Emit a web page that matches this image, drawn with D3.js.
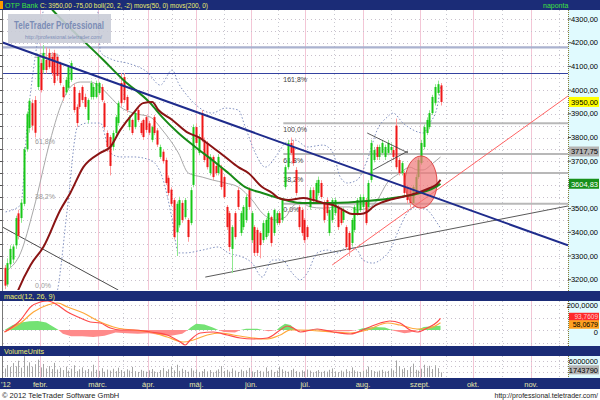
<!DOCTYPE html>
<html><head><meta charset="utf-8">
<script src="https://cdn.jsdelivr.net/npm/d3@7"></script>
<style>body{margin:0;background:#fff}svg{display:block;font-family:"Liberation Sans",Arial,sans-serif}</style>
</head><body><svg id="c" width="600" height="400"></svg>
<script>
// ---------- DATA ----------
const opens=[3250,3180,3265,3285,3345,3480,3460,3520,3750,3840,3945,3958,4013,4114,4085,4127,4157,4140,4157,4140,4114,4013,3990,4010,4043,4013,3929,3988,4013,3971,3874,3971,3971,3971,3988,4013,3945,3819,3802,3760,3819,3861,4030,4055,3971,3844,3874,3844,3916,3861,3874,3886,3860,3790,3886,3830,3718,3740,3705,3630,3580,3536,3400,3430,3524,3464,3452,3439,3600,3844,3735,3903,3789,3777,3650,3718,3680,3650,3675,3633,3507,3481,3330,3481,3578,3397,3422,3452,3578,3367,3422,3410,3397,3367,3380,3397,3464,3397,3439,3481,3452,3591,3675,3777,3760,3663,3507,3494,3452,3422,3507,3578,3536,3566,3608,3524,3536,3397,3452,3481,3507,3494,3452,3422,3397,3355,3410,3481,3494,3507,3536,3507,3621,3705,3760,3718,3735,3718,3735,3747,3747,3850,3705,3650,3650,3591,3578,3524,3578,3633,3692,3760,3819,3844,3903,3945,3988,4020];
const highs=[3262,3290,3345,3350,3470,3495,3540,3760,3910,3965,3960,3975,4150,4130,4190,4180,4175,4160,4170,4150,4120,4020,4055,4105,4125,4025,3940,4000,4020,3985,3965,4040,4025,4040,4035,4025,3955,3830,3810,3830,3895,3955,4072,4072,3980,3895,3880,3910,3925,3870,3880,3895,3870,3850,3895,3840,3770,3750,3715,3640,3590,3545,3530,3550,3535,3545,3460,3590,3855,3860,3815,3916,3800,3785,3730,3725,3690,3730,3685,3640,3515,3490,3430,3490,3590,3490,3515,3560,3590,3490,3430,3420,3405,3450,3460,3490,3470,3500,3490,3490,3545,3685,3790,3800,3790,3675,3515,3505,3460,3430,3590,3590,3620,3635,3620,3535,3545,3505,3545,3545,3515,3505,3505,3430,3405,3460,3515,3545,3560,3560,3545,3620,3790,3760,3770,3770,3790,3770,3790,3775,3760,3880,3715,3700,3660,3600,3590,3600,3645,3715,3790,3855,3885,3915,3980,4025,4040,4030];
const lows=[3160,3170,3250,3270,3330,3370,3440,3510,3740,3820,3830,3800,4000,3990,4070,4070,4090,4060,4020,4040,4020,3955,3980,4000,4035,3905,3845,3920,3945,3920,3860,3960,3960,3965,3980,3950,3830,3740,3640,3745,3810,3850,3930,3945,3905,3830,3810,3835,3865,3810,3790,3820,3810,3780,3810,3760,3710,3690,3600,3555,3510,3370,3300,3420,3440,3455,3360,3430,3590,3765,3725,3780,3695,3665,3640,3620,3640,3640,3580,3540,3410,3320,3228,3370,3495,3385,3410,3440,3495,3355,3300,3300,3290,3355,3370,3385,3340,3385,3430,3430,3440,3580,3665,3725,3680,3555,3410,3385,3355,3370,3495,3525,3525,3555,3540,3440,3470,3385,3440,3470,3410,3430,3440,3325,3300,3340,3400,3470,3485,3495,3430,3495,3610,3695,3705,3705,3725,3705,3725,3735,3705,3665,3640,3640,3555,3520,3505,3515,3570,3625,3685,3750,3810,3835,3895,3935,3980,3935];
const closes=[3175,3270,3330,3340,3460,3385,3525,3750,3900,3955,3850,3820,4140,4000,4157,4085,4097,4072,4030,4060,4030,3970,4043,4097,4114,3916,3861,3929,3958,3929,3958,4030,4013,4030,4030,3958,3844,3760,3680,3819,3886,3945,3945,3958,3916,3886,3819,3903,3874,3819,3802,3832,3820,3844,3819,3770,3760,3700,3608,3566,3520,3380,3520,3536,3452,3536,3380,3578,3844,3777,3802,3789,3705,3675,3718,3633,3650,3718,3591,3549,3422,3338,3422,3380,3507,3481,3507,3549,3507,3481,3313,3313,3346,3439,3452,3481,3355,3494,3481,3439,3536,3675,3777,3735,3692,3566,3422,3397,3367,3380,3578,3536,3608,3621,3549,3452,3481,3494,3536,3536,3422,3439,3494,3338,3325,3452,3507,3536,3549,3549,3439,3608,3777,3747,3718,3760,3777,3760,3777,3760,3718,3675,3650,3692,3566,3536,3524,3591,3633,3705,3777,3844,3874,3903,3971,4013,4025,3950];
// volume in millions of units
const volumes=[3.2,4.5,3.8,5.2,4.0,6.1,3.5,7.8,4.2,5.5,3.9,4.8,6.5,3.6,4.9,3.2,4.1,3.0,5.3,2.8,3.5,
2.6,3.9,2.4,3.1,4.4,2.2,2.9,3.6,2.5,3.0,2.1,4.6,2.7,2.3,3.3,2.0,2.8,2.4,3.1,2.2,
3.5,2.6,2.1,2.9,2.4,3.8,2.2,1.9,2.7,2.3,2.0,2.5,3.0,2.1,1.8,2.6,3.4,2.2,2.9,3.9,
2.5,4.6,2.3,3.1,2.6,2.0,3.3,2.4,2.8,1.9,2.2,3.0,2.1,2.6,1.8,2.4,2.9,4.1,2.3,2.7,
2.0,3.2,2.4,1.9,2.8,2.2,2.5,3.4,2.1,1.8,2.6,2.3,2.0,3.6,2.2,2.7,1.9,2.4,3.8,2.9,
2.3,2.0,2.6,3.1,2.2,1.9,2.5,2.1,2.8,2.4,1.8,2.2,2.6,1.9,2.3,2.0,2.7,3.2,2.1,1.8,
2.4,2.0,2.9,2.2,3.6,2.5,2.1,1.9,2.3,2.8,3.9,2.6,2.2,2.0,2.4,2.7,2.1,2.3,3.0,2.5,
6.2,4.1,2.9,3.4,2.6,3.8,5.0,2.7,2.4,3.1,4.6,3.5,4.2,3.0,4.4,3.3,1.74379];
// indicator lines: [candle index, value]
const ma50=[[3.5,3110],[4.0,3127],[9.4,3262],[14.0,3338],[20.1,3494],[23.7,3566],[28.4,3675],[34.5,3735],[38.1,3760],[41.7,3832],[46.4,3903],[49.9,3945],[53.2,3950],[55.4,3916],[60.4,3874],[66.2,3819],[69.8,3802],[74.8,3760],[79.5,3718],[84.2,3675],[87.8,3650],[92.8,3591],[96.4,3566],[98.6,3545],[102.2,3536],[107.6,3545],[111.2,3536],[114.7,3524],[118.3,3515],[121.9,3494],[125.2,3477],[128.1,3477],[130.6,3486],[132.7,3507],[136.3,3528],[141.4,3545],[146.0,3557],[149.6,3570],[153.2,3587],[155.8,3604],[157,3621]];
const ma200=[[14.7,4372],[17.3,4338],[35.6,4127],[42.8,4043],[52.5,3945],[56.8,3886],[62.6,3819],[68.7,3760],[74.8,3705],[80.6,3650],[86.7,3591],[92.8,3566],[98.6,3545],[106.5,3524],[118.3,3524],[130.6,3532],[142.4,3549],[149.6,3566],[155.8,3595],[157,3604.83]];
const bollMid=[[1.1,3241],[5.8,3313],[10.4,3494],[16.5,3789],[20.1,3929],[23.7,4013],[27.3,4034],[30.9,4034],[34.5,4013],[38.1,3971],[41.7,3929],[46.4,3903],[52.5,3886],[56.8,3832],[62.6,3735],[66.2,3650],[71.2,3633],[74.8,3621],[79.5,3608],[84.2,3591],[89.2,3536],[92.8,3481],[97.5,3452],[101.1,3464],[103.6,3507],[106.5,3528],[110.1,3507],[114.7,3502],[119.8,3507],[124.5,3507],[127.0,3494],[131.7,3507],[134.2,3536],[137.8,3608],[142.4,3650],[146.0,3675],[148.6,3663],[150.7,3663],[154.3,3692],[157,3717.75]];
const bollUp=[[0.4,3486],[5.8,3515],[8.3,3874],[10.4,4085],[12.9,4275],[15.1,4380],[23.7,4511],[30.9,4427],[33.8,4317],[34.5,4161],[39.2,4127],[44.2,4114],[51.4,4076],[56.1,4021],[60.4,4085],[62.6,4030],[66.2,3971],[69.8,3929],[74.8,3903],[79.5,3924],[84.2,3916],[86.7,3844],[90.3,3735],[93.9,3675],[98.6,3735],[101.1,3777],[104.7,3789],[109.0,3760],[114.7,3768],[118.3,3735],[120.9,3633],[123.4,3608],[127.0,3621],[130.6,3705],[134.2,3832],[137.8,3886],[139.9,3903],[143.5,3861],[147.1,3832],[150.7,3819],[153.2,3861],[155.8,3929],[157,4013]];
const bollLow=[[18.3,3114],[19.1,3156],[22.7,3507],[26.3,3844],[29.9,3861],[34.5,3861],[38.1,3735],[41.7,3718],[46.4,3718],[52.5,3705],[56.8,3633],[60.4,3452],[62.6,3313],[65.1,3313],[71.2,3325],[77.0,3338],[80.6,3313],[85.6,3296],[89.2,3270],[92.8,3211],[96.4,3283],[100.0,3283],[103.6,3228],[106.5,3199],[109.0,3228],[112.6,3313],[116.2,3325],[119.8,3313],[123.4,3338],[127.0,3325],[129.1,3283],[132.7,3270],[135.3,3283],[138.8,3325],[142.4,3422],[145.0,3481],[148.6,3507],[152.2,3494],[155.8,3439],[157,3418]];
const macdLine=[[0,-16],[5.8,80],[9.4,184],[12.9,224],[15.5,232],[19.1,200],[22.7,144],[27.3,96],[30.9,64],[34.5,56],[38.1,16],[41.7,0],[46.4,0],[52.5,-16],[58.6,-40],[63.3,-96],[65.1,-120],[66.9,-80],[70.5,-24],[75.2,-16],[80.2,-40],[84.9,-64],[89.6,-72],[94.6,-64],[99.3,0],[101.8,32],[104.0,16],[106.5,-16],[112.6,8],[118.3,-16],[124.5,-32],[130.6,16],[135.3,56],[138.8,72],[142.4,56],[146.0,0],[148.6,-16],[152.2,16],[155.8,64],[157,93.7609]];
const signalLine=[[0,-16],[5.8,56],[10.4,144],[15.5,200],[19.1,216],[22.7,184],[28.4,136],[34.5,64],[40.6,16],[46.4,0],[52.5,-16],[58.6,-56],[64.4,-96],[68.0,-80],[73.0,-40],[77.7,-24],[82.4,-40],[89.6,-64],[94.6,-72],[99.3,-40],[102.9,0],[106.5,0],[118.3,-16],[124.5,-24],[130.6,0],[137.8,56],[142.4,40],[148.6,8],[153.2,16],[157,58.0679]];
const macdHist=[[0,0],[3,40],[6,60],[9,70],[12,72],[15,60],[18,20],[19.5,0],[21,-30],[24,-50],[28,-50],[32,-55],[36,-45],[40,-20],[44,-25],[48,-30],[52,-25],[56,-40],[60,-45],[64,-30],[66,0],[67,20],[69,50],[72,45],[75,20],[77,0],[79,-15],[83,-20],[85,0],[87,10],[91,10],[93,0],[95,-10],[98,0],[99,20],[101,50],[103,40],[105,0],[108,-5],[112,5],[116,-10],[120,-10],[124,-10],[127,0],[129,15],[133,25],[137,20],[139,5],[141,-10],[144,-25],[146,-20],[148,-5],[149,5],[151,25],[154,30],[157,35]];
// drawn lines [index, price]
const resistanceLine=[[-1.2,4203],[202.9,3345]];
const oldDownLine=[[-1.2,3425],[41,3156]];
const supportLine=[[72.3,3211],[202.9,3511]];
const upTrendLine=[[118,3262],[202.9,3975]];
const flagUpper=[[130.6,3819],[145.3,3735]];
const flagLower=[[132.7,3663],[145.3,3743]];
const highlight={i:150,p:3612,di:5.75,dp:110};
const fullLevels=[4180,4070];
const fibPrices=[4070,3860,3730,3650,3520];
const fibLabels=["161,8%","100,0%","61,8%","38,2%","0,0%"];
const fibStart=100.4;
const leftFibPrices=[4170,3806,3574,3200];
const leftFibLabels=["100,0%","61,8%","38,2%","0,0%"];
const leftFibAt=11;
const priceTicks=[3200,3300,3400,3500,3600,3700,3800,3900,4000,4100,4200,4300];
const monthLabels=["'12","febr.","márc.","ápr.","máj.","jún.","júl.","aug.","szept.","okt.","nov."];
const monthIdx=[0,12.9,33.5,51.8,69.1,88.8,108.3,129.1,149.6,168.7,189.6];
const macdTicks=[0,200];
const volTicks=[6];

// ---------- DRAW ----------
const svg=d3.select("#c");
const N=closes.length;
const x=d3.scaleLinear().domain([0,N-1]).range([4.5,440.5]);
const y=d3.scaleLinear().domain([3200,4300]).range([279.7,19]);
const ym=d3.scaleLinear().domain([0,200]).range([330,305]);
const yv=d3.scaleLinear().domain([0,6]).range([377,361]);
const NAVY="#1b2c77", AX="#e0fafe";
const f2=v=>v.toFixed(2).replace('.',',');
const f4=v=>v.toFixed(4).replace('.',',');

svg.append("rect").attr("width",600).attr("height",400).attr("fill","#fff");
const defs=svg.append("defs");
function clip(id,y0,h){defs.append("clipPath").attr("id",id).append("rect").attr("x",3).attr("y",y0).attr("width",565).attr("height",h);}
clip("cm",10,280); clip("cmacd",301,45); clip("cvol",356,22);

[[0,10],[291,10],[346,10],[378,11]].forEach(([y0,h])=>svg.append("rect").attr("x",0).attr("y",y0).attr("width",600).attr("height",h).attr("fill",NAVY));
[[10,281],[301,45],[356,22]].forEach(([y0,h])=>{
  svg.append("rect").attr("x",568).attr("y",y0).attr("width",32).attr("height",h).attr("fill",AX);
  svg.append("line").attr("x1",568.5).attr("x2",568.5).attr("y1",y0).attr("y2",y0+h).attr("stroke","#8a7a30").attr("stroke-dasharray","1,1");
  svg.append("line").attr("x1",2.5).attr("x2",2.5).attr("y1",y0).attr("y2",y0+h).attr("stroke","#777");
});

const panels=[[10,290],[301,346],[356,378]];
panels.forEach(([t,b])=>{
  monthIdx.slice(1).forEach((m,k)=>{
    const xx=Math.round(x(m))+0.5;
    if(xx<568) svg.append("line").attr("x1",xx).attr("x2",xx).attr("y1",t).attr("y2",b).attr("stroke","#f3c6d6");
    const nx=k+2<monthIdx.length?monthIdx[k+2]:m+20;
    const mx=Math.round(x((m+nx)/2))+0.5;
    if(mx<568) svg.append("line").attr("x1",mx).attr("x2",mx).attr("y1",t).attr("y2",b).attr("stroke","#c8c8d0").attr("stroke-dasharray","1,3");
  });
});
const gm=svg.append("g").attr("clip-path","url(#cm)");
d3.range(3150,4351,50).forEach(p=>{
  const yy=Math.round(y(p))+0.5;
  gm.append("line").attr("x1",3).attr("x2",568).attr("y1",yy).attr("y2",yy).attr("stroke","#c8c0cc").attr("stroke-dasharray","1,3");
  if(yy>10&&yy<290) svg.append("line").attr("x1",0).attr("x2",2.5).attr("y1",yy).attr("y2",yy).attr("stroke","#555");
});
gm.append("line").attr("x1",3).attr("x2",568).attr("y1",y(fullLevels[0])).attr("y2",y(fullLevels[0])).attr("stroke","#aab2cf").attr("stroke-width",2.2);
gm.append("line").attr("x1",3).attr("x2",568).attr("y1",y(fullLevels[1])).attr("y2",y(fullLevels[1])).attr("stroke","#3442a0").attr("stroke-width",1.2);
fibPrices.forEach((p,k)=>{
  if(k>0) gm.append("line").attr("x1",x(fibStart)).attr("x2",568).attr("y1",y(p)).attr("y2",y(p)).attr("stroke","#b8b8b8").attr("stroke-width",2);
  gm.append("text").attr("x",x(fibStart)).attr("y",y(p)+8.5).attr("font-size",7).attr("fill","#444").text(fibLabels[k]);
});
leftFibPrices.forEach((p,k)=>{
  gm.append("text").attr("x",x(leftFibAt)).attr("y",y(p)+8).attr("font-size",7).attr("fill","#9a9a9a").text(leftFibLabels[k]);
});

const line=d3.line().x(d=>x(d[0])).y(d=>y(d[1]));
const sline=d3.line().x(d=>x(d[0])).y(d=>y(d[1])).curve(d3.curveMonotoneX);

gm.append("path").attr("d",line(oldDownLine)).attr("fill","none").attr("stroke","#4a4a4a").attr("stroke-width",1);
gm.append("path").attr("d",line(supportLine)).attr("fill","none").attr("stroke","#5a5a5a").attr("stroke-width",1);
gm.append("path").attr("d",line(upTrendLine)).attr("fill","none").attr("stroke","#ff6464").attr("stroke-width",1);

gm.append("path").attr("d",sline(bollMid)).attr("fill","none").attr("stroke","#a8a8a8").attr("stroke-width",1);
[bollUp,bollLow].forEach(b=>gm.append("path").attr("d",sline(b)).attr("fill","none").attr("stroke","#8090c0").attr("stroke-width",1).attr("stroke-dasharray","1.5,2"));

const cg=gm.append("g");
closes.forEach((c,i)=>{
  const up=c>=opens[i];
  const xx=Math.round(x(i));
  cg.append("line").attr("x1",xx+0.5).attr("x2",xx+0.5).attr("y1",y(highs[i])).attr("y2",y(lows[i])).attr("stroke",up?"#8ee88e":"#ff9c9c").attr("stroke-width",1);
  const t=y(Math.max(c,opens[i])), b=y(Math.min(c,opens[i]));
  cg.append("rect").attr("x",xx-0.5).attr("y",t).attr("width",2).attr("height",Math.max(1,b-t)).attr("fill",up?"#18c818":"#f01818");
});

gm.append("ellipse").attr("cx",x(highlight.i)).attr("cy",y(highlight.p))
  .attr("rx",x(highlight.di)-x(0)).attr("ry",y(highlight.p-highlight.dp)-y(highlight.p))
  .attr("fill","#f07878").attr("fill-opacity",0.7).attr("stroke","#e04848").attr("stroke-width",1);

gm.append("path").attr("d",sline(ma200)).attr("fill","none").attr("stroke","#178a17").attr("stroke-width",2);
gm.append("path").attr("d",sline(ma50)).attr("fill","none").attr("stroke","#8a1414").attr("stroke-width",2);
[flagUpper,flagLower].forEach(l=>gm.append("path").attr("d",line(l)).attr("fill","none").attr("stroke","#333").attr("stroke-width",0.8));
gm.append("path").attr("d",line(resistanceLine)).attr("fill","none").attr("stroke","#1f2c8c").attr("stroke-width",2);

svg.append("rect").attr("x",8).attr("y",14).attr("width",103).attr("height",29).attr("fill","#c9ccd7").attr("opacity",0.9);
svg.append("text").attr("x",14).attr("y",29).attr("font-size",11).attr("font-weight","bold").attr("fill","#7c8db6").attr("textLength",90).attr("lengthAdjust","spacingAndGlyphs").text("TeleTrader Professional");
svg.append("text").attr("x",25).attr("y",38.5).attr("font-size",5.5).attr("fill","#7c8db6").attr("textLength",77).attr("lengthAdjust","spacingAndGlyphs").text("http://professional.teletrader.com/");

priceTicks.forEach(p=>{
  svg.append("text").attr("x",598).attr("y",y(p)+2.5).attr("text-anchor","end").attr("font-size",7.5).attr("fill","#000").text(f2(p));
  svg.append("line").attr("x1",568).attr("x2",571).attr("y1",y(p)).attr("y2",y(p)).attr("stroke","#555");
});
function tag(yy,txt,bg,fg){
  svg.append("rect").attr("x",569).attr("y",yy-5).attr("width",30).attr("height",10).attr("fill",bg);
  svg.append("text").attr("x",598).attr("y",yy+3).attr("text-anchor","end").attr("font-size",7.5).attr("fill",fg).text(txt);
}
// grey tag nudged up so the 3700,00 tick stays readable below it
tag(y(bollMid[bollMid.length-1][1])-5.5,f2(bollMid[bollMid.length-1][1]),"#b4b4b4","#000");
tag(y(ma200[ma200.length-1][1]),f2(ma200[ma200.length-1][1]),"#17901a","#fff");
tag(y(closes[N-1]),f2(closes[N-1]),"#ffff00","#000");

// ---------- MACD ----------
const gmacd=svg.append("g").attr("clip-path","url(#cmacd)");
[-100,0,100,200].forEach(v=>gmacd.append("line").attr("x1",3).attr("x2",568).attr("y1",Math.round(ym(v))+0.5).attr("y2",Math.round(ym(v))+0.5).attr("stroke","#c8c0cc").attr("stroke-dasharray","1,3"));
const areaPos=d3.area().x(d=>x(d[0])).y0(ym(0)).y1(d=>ym(Math.max(0,d[1])));
const areaNeg=d3.area().x(d=>x(d[0])).y0(ym(0)).y1(d=>ym(Math.min(0,d[1])));
gmacd.append("path").attr("d",areaPos(macdHist)).attr("fill","#74e274");
gmacd.append("path").attr("d",areaNeg(macdHist)).attr("fill","#ff8a8a");
const mline=d3.line().x(d=>x(d[0])).y(d=>ym(d[1])).curve(d3.curveMonotoneX);
gmacd.append("path").attr("d",mline(signalLine)).attr("fill","none").attr("stroke","#ffa838").attr("stroke-width",1.2);
gmacd.append("path").attr("d",mline(macdLine)).attr("fill","none").attr("stroke","#ff4a4a").attr("stroke-width",1.2);
macdTicks.forEach(v=>svg.append("text").attr("x",598).attr("y",ym(v)+(v===0?4.5:2.5)).attr("text-anchor","end").attr("font-size",7.5).attr("fill","#000").text(v===0?"0":f4(v)));
(function(){
  const mv=macdLine[macdLine.length-1][1], sv=signalLine[signalLine.length-1][1];
  svg.append("rect").attr("x",569).attr("y",ym(mv)-5.5).attr("width",30).attr("height",8).attr("fill","#ff2a2a");
  svg.append("text").attr("x",598).attr("y",ym(mv)+0.8).attr("text-anchor","end").attr("font-size",6.5).attr("fill","#ffd0d0").text(f4(mv));
  svg.append("rect").attr("x",569).attr("y",ym(sv)-2.5).attr("width",30).attr("height",8.5).attr("fill","#ffa020");
  svg.append("text").attr("x",598).attr("y",ym(sv)+4).attr("text-anchor","end").attr("font-size",7).attr("fill","#000").text(f4(sv));
})();

// ---------- VOLUME ----------
const gvol=svg.append("g").attr("clip-path","url(#cvol)");
[2,4,6].forEach(v=>gvol.append("line").attr("x1",3).attr("x2",568).attr("y1",Math.round(yv(v))+0.5).attr("y2",Math.round(yv(v))+0.5).attr("stroke","#c8c0cc").attr("stroke-dasharray","1,3"));
volumes.forEach((v,i)=>{
  const xx=Math.round(x(i))+0.5;
  gvol.append("line").attr("x1",xx).attr("x2",xx).attr("y1",yv(0)).attr("y2",yv(v)).attr("stroke","#a4a4a4").attr("stroke-width",1);
});
volTicks.forEach(v=>svg.append("text").attr("x",598).attr("y",yv(v)+2.5).attr("text-anchor","end").attr("font-size",7.5).attr("fill","#000").text(String(v*1000000)));
(function(){
  const lv=volumes[N-1];
  svg.append("rect").attr("x",569).attr("y",yv(lv)-7).attr("width",30).attr("height",9).attr("fill","#b4b4b4");
  svg.append("text").attr("x",598).attr("y",yv(lv)+0.5).attr("text-anchor","end").attr("font-size",7.5).attr("fill","#000").text(String(Math.round(lv*1000000)));
})();

// ---------- HEADERS / AXIS ----------
svg.append("rect").attr("x",0).attr("y",1).attr("width",3).attr("height",8).attr("fill","#ff9a00");
svg.append("text").attr("x",5).attr("y",8).attr("font-size",7.5).attr("fill","#3ee03e").attr("textLength",33).attr("lengthAdjust","spacingAndGlyphs").text("OTP Bank");
svg.append("text").attr("x",40).attr("y",8).attr("font-size",7.5).attr("fill","#ecec6c").attr("textLength",168).attr("lengthAdjust","spacingAndGlyphs").text("C: 3950,00 -75,00 boll(20, 2, -2) movs(50, 0) movs(200, 0)");
svg.append("text").attr("x",543).attr("y",8).attr("font-size",7).attr("fill","#3ee03e").text("naponta");
svg.append("text").attr("x",4).attr("y",299).attr("font-size",7.5).attr("fill","#ecec6c").attr("textLength",51).attr("lengthAdjust","spacingAndGlyphs").text("macd(12, 26, 9)");
svg.append("text").attr("x",4).attr("y",354).attr("font-size",7.5).attr("fill","#ecec6c").attr("textLength",40).attr("lengthAdjust","spacingAndGlyphs").text("VolumeUnits");
monthLabels.forEach((m,k)=>{
  const xx=x(monthIdx[k]);
  svg.append("text").attr("x",k===0?1:xx).attr("y",386.5).attr("text-anchor",k===0?"start":"middle").attr("font-size",7.5).attr("fill","#e6e6a8").text(m);
});
svg.append("text").attr("x",2).attr("y",397.5).attr("font-size",7.5).attr("fill","#222").text("© 2012 TeleTrader Software GmbH");
svg.append("text").attr("x",598).attr("y",397.5).attr("text-anchor","end").attr("font-size",7).attr("fill","#222").text("http://professional.teletrader.com/");
</script></body></html>
